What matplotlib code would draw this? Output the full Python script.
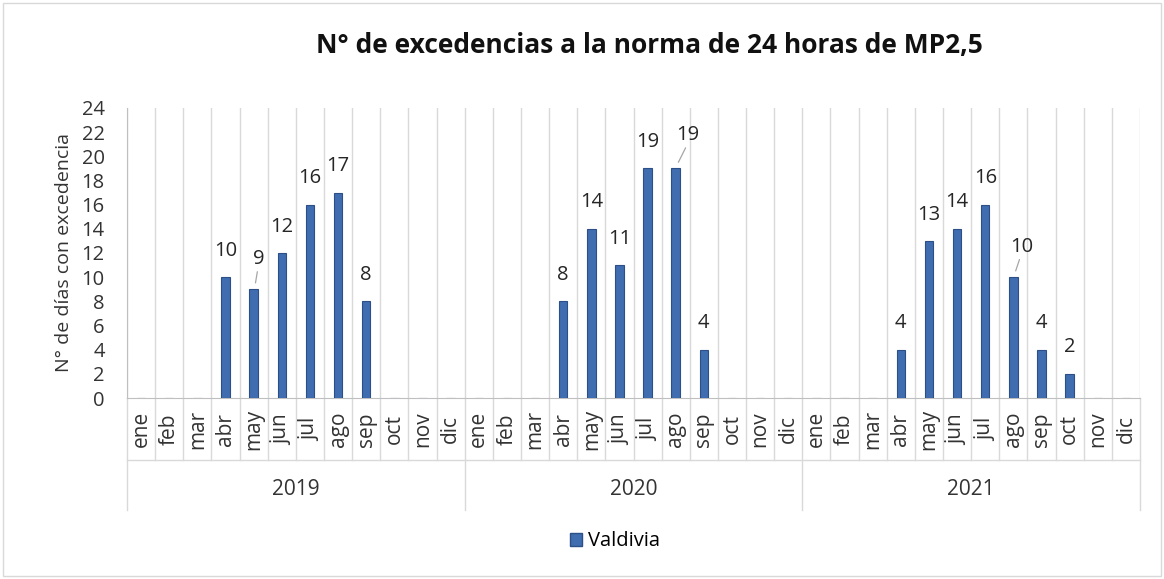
import matplotlib.pyplot as plt
import matplotlib.patches as mpatches
from matplotlib.transforms import blended_transform_factory
import numpy as np

plt.rcParams['font.family'] = ['Open Sans', 'DejaVu Sans']

years = ['2019', '2020', '2021']
months = ['ene', 'feb', 'mar', 'abr', 'may', 'jun', 'jul', 'ago', 'sep', 'oct', 'nov', 'dic']
v2019 = [0, 0, 0, 10, 9, 12, 16, 17, 8, 0, 0, 0]
v2020 = [0, 0, 0, 8, 14, 11, 19, 19, 4, 0, 0, 0]
v2021 = [0, 0, 0, 4, 13, 14, 16, 10, 4, 2, 0, 0]
series_name = 'Valdivia'
title = 'N° de excedencias a la norma de 24 horas de MP2,5'
ylabel = 'N° de días con excedencia'

values = v2019 + v2020 + v2021
x = np.arange(len(values))
# labels that Excel pushed aside with a leader line: index -> offset (pt)
moved = {4: (4, 22), 19: (9, 24), 31: (6, 22)}

fig = plt.figure(figsize=(11.64, 5.79), dpi=100)
ax = fig.add_axes([0.1091, 0.3126, 0.8703, 0.5009])

bar_color = '#3f6db0'
ax.bar(x, values, width=0.3, color=bar_color, edgecolor='#2b4f86', linewidth=0.8, zorder=3)

for i, v in enumerate(values):
    if v == 0:
        continue
    off = moved.get(i, (0, 19))
    ax.annotate(str(v), (x[i], v), xytext=off, textcoords='offset points',
                ha='center', va='center', fontsize=14.5, color='#262626', zorder=4)
    if i in moved:
        ax.annotate('', (x[i] + 0.05, v + 0.3), xytext=(off[0] - 2, off[1] - 10),
                    textcoords='offset points',
                    arrowprops=dict(arrowstyle='-', color='#a6a6a6', lw=0.9))

ax.set_xlim(-0.5, len(values) - 0.5)
ax.set_ylim(0, 24)
ax.set_yticks(np.arange(0, 25, 2))
ax.tick_params(axis='y', length=0, labelsize=14.5, labelcolor='#333333', pad=16)
ax.set_xticks([])
for s in ['top', 'right']:
    ax.spines[s].set_visible(False)
ax.spines['left'].set_color('#bfbfbf')
ax.spines['bottom'].set_color('#bfbfbf')
ax.set_ylabel(ylabel, fontsize=14, color='#333333', labelpad=6)

# category separators
tr = blended_transform_factory(ax.transData, ax.transAxes)
for b in np.arange(-0.5, len(values), 1.0):
    ax.plot([b, b], [0, 1], color='#d9d9d9', lw=1, transform=tr, zorder=1)
    year_edge = (b + 0.5) % 12 == 0
    ax.plot([b, b], [0, -0.386 if year_edge else -0.214], color='#d9d9d9', lw=1,
            transform=tr, clip_on=False)
ax.plot([-0.5, len(values) - 0.5], [-0.214, -0.214], color='#d9d9d9', lw=1,
        transform=tr, clip_on=False)

for i in x:
    ax.text(i, -0.108, months[i % 12], rotation=90, ha='center', va='center',
            fontsize=15, color='#333333', transform=tr)
for k, yr in enumerate(years):
    ax.text(k * 12 + 5.5, -0.317, yr, ha='center', va='center', fontsize=15,
            color='#333333', transform=tr)

fig.text(0.558, 0.922, title, ha='center', va='center', fontsize=19, fontweight='bold',
         color='#111111')

handle = mpatches.Patch(facecolor=bar_color, edgecolor='#2b4f86')
fig.legend([handle], [series_name], loc='center', bbox_to_anchor=(0.528, 0.065),
           frameon=False, fontsize=14.5, handlelength=0.6, handleheight=0.6,
           handletextpad=0.3)

fig.patches.append(mpatches.Rectangle((0.003, 0.005), 0.994, 0.99, transform=fig.transFigure,
                                      fill=False, edgecolor='#d9d9d9', lw=1))

fig.savefig('out.png', dpi=100, facecolor='white')
